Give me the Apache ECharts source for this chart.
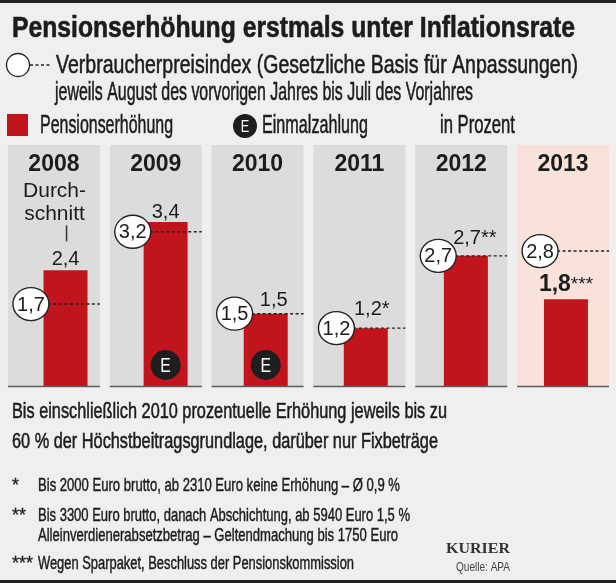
<!DOCTYPE html>
<html><head><meta charset="utf-8">
<script src="https://cdn.jsdelivr.net/npm/echarts@6/dist/echarts.min.js"></script>
<style>html,body{margin:0;padding:0;background:#efeff0;}#c{width:616px;height:583px;}</style>
</head><body><div id="c"></div>
<script>
// ---- data ----
const years = ['2008', '2009', '2010', '2011', '2012', '2013'];
const pensionIncrease = [2.4, 3.4, 1.5, 1.2, 2.7, 1.8];
const cpi = [1.7, 3.2, 1.5, 1.2, 2.7, 2.8];
const footnoteMarks = ['', '', '', '*', '**', '***'];
const oneOffPayment = [false, true, true, false, false, false];
const notes = ['Durch-\nschnitt', '', '', '', '', ''];
const highlightYear = '2013';
const yMax = 5;

// ---- style ----
const NARROW = "'Liberation Sans Narrow','Arial Narrow','Liberation Sans',Arial,sans-serif";
const SANS = "'Liberation Sans',Arial,sans-serif";
const SERIF = "'Liberation Serif','DejaVu Serif',serif";
const INK = '#1c1c1c';
const RED = '#c1141c';
const labelLift = [1, 0, 3, 9, 7, 3];
const labelDx = [0, 0, 8, 6, 9, 0];

const fmt = v => String(v).replace('.', ',');

const mctx = document.createElement('canvas').getContext('2d');
function measure(text, weight, size, family) {
  mctx.font = weight + ' ' + size + 'px ' + family;
  return mctx.measureText(text).width;
}
function T(text, x, y, size, target, opt) {
  opt = opt || {};
  const weight = opt.weight || 'normal';
  const family = opt.family || NARROW;
  const w = measure(text, weight, size, family);
  const sx = target ? target / w : 1;
  const color = opt.color || INK;
  return {
    type: 'text', x: x, y: y, scaleX: sx, silent: true, z: 100,
    style: {
      text: text, fontSize: size, fontFamily: family, fontWeight: weight,
      fill: color, stroke: opt.thick === 0 ? null : color, lineWidth: opt.thick === undefined ? 0.55 : opt.thick,
      textAlign: 'left', align: 'left',
      textVerticalAlign: 'middle', verticalAlign: 'middle'
    }
  };
}

const graphics = [
  { type: 'rect', shape: { x: 0, y: 0, width: 616, height: 3 }, style: { fill: '#222' }, silent: true },
  { type: 'rect', shape: { x: 0, y: 580, width: 616, height: 3 }, style: { fill: '#222' }, silent: true },
  T('Pensionserhöhung erstmals unter Inflationsrate', 12, 29, 29, 563, { weight: 'bold', thick: 0.6 }),
  { type: 'circle', shape: { cx: 18, cy: 65, r: 11.5 }, style: { fill: '#fff', stroke: '#222', lineWidth: 1.3 }, silent: true },
  { type: 'line', shape: { x1: 30, y1: 65, x2: 52, y2: 65 }, style: { stroke: '#222', lineWidth: 1.4, lineDash: [3, 2.5] }, silent: true },
  T('Verbraucherpreisindex (Gesetzliche Basis für Anpassungen)', 56, 66, 26, 522),
  T('jeweils August des vorvorigen Jahres bis Juli des Vorjahres', 55, 93, 26, 418),
  { type: 'rect', shape: { x: 7, y: 114, width: 21, height: 22 }, style: { fill: RED }, silent: true },
  T('Pensionserhöhung', 40, 126, 26, 133),
  { type: 'circle', shape: { cx: 245, cy: 126, r: 12 }, style: { fill: '#1e1e1e' }, silent: true },
  { type: 'text', x: 245, y: 127, scaleX: 0.75, silent: true, z: 100,
    style: { text: 'E', fontSize: 17, fontFamily: SANS, fill: '#fff', textAlign: 'center', align: 'center', textVerticalAlign: 'middle', verticalAlign: 'middle' } },
  T('Einmalzahlung', 262, 126, 26, 106),
  T('in Prozent', 440, 126, 26, 75),
  T('Bis einschließlich 2010 prozentuelle Erhöhung jeweils bis zu', 12, 412, 22, 435),
  T('60 % der Höchstbeitragsgrundlage, darüber nur Fixbeträge', 12, 442, 22, 426),
  T('*', 12, 486, 18, 0, { thick: 0.3 }),
  T('Bis 2000 Euro brutto, ab 2310 Euro keine Erhöhung – Ø 0,9 %', 38, 486, 18, 362, { thick: 0.45 }),
  T('**', 12, 516, 18, 0, { thick: 0.3 }),
  T('Bis 3300 Euro brutto, danach Abschichtung, ab 5940 Euro 1,5 %', 38, 516, 18, 372, { thick: 0.45 }),
  T('Alleinverdienerabsetzbetrag – Geltendmachung bis 1750 Euro', 38, 536, 18, 360, { thick: 0.45 }),
  T('***', 12, 564, 18, 0, { thick: 0.3 }),
  T('Wegen Sparpaket, Beschluss der Pensionskommission', 38, 564, 18, 316, { thick: 0.45 }),
  T('KURIER', 446, 549, 15, 64, { family: SERIF, weight: 'bold', color: '#333', thick: 0 }),
  T('Quelle: APA', 456, 567, 13, 54, { color: '#444', thick: 0 })
];

const panelData = years.map(y => ({ value: yMax, itemStyle: { color: y === highlightYear ? '#f8e2d9' : '#dcdcdd' } }));

const barData = pensionIncrease.map((v, i) => ({
  value: v,
  label: { distance: labelLift[i], offset: [labelDx[i], 0] }
}));

const option = {
  animation: false,
  backgroundColor: '#efeff0',
  graphic: graphics,
  grid: [
    { left: 3, width: 611, top: 145, height: 241 },
    { left: 15.5, width: 611, top: 145, height: 241 }
  ],
  xAxis: [
    { type: 'category', gridIndex: 0, data: years, position: 'top', z: 20,
      axisLine: { show: false }, axisTick: { show: false }, splitLine: { show: false },
      axisLabel: { inside: true, margin: 8, color: INK, fontSize: 23, fontWeight: 'bold', fontFamily: SANS } },
    { type: 'category', gridIndex: 1, data: years, show: false }
  ],
  yAxis: [
    { type: 'value', gridIndex: 0, min: 0, max: yMax, show: false },
    { type: 'value', gridIndex: 1, min: 0, max: yMax, show: false }
  ],
  series: [
    { type: 'bar', name: 'panel', xAxisIndex: 0, yAxisIndex: 0, barWidth: 92, data: panelData, silent: true, z: 1 },
    { type: 'bar', name: 'Pensionserhöhung', xAxisIndex: 1, yAxisIndex: 1, barWidth: 44, data: barData,
      itemStyle: { color: RED }, z: 3,
      label: {
        show: true, position: 'top', color: INK,
        formatter: p => {
          const m = footnoteMarks[p.dataIndex];
          if (years[p.dataIndex] === highlightYear) return '{b|' + fmt(p.value) + '}{s|' + m + '}';
          return '{n|' + fmt(p.value) + '}' + (m ? '{a|' + m + '}' : '');
        },
        rich: {
          n: { fontSize: 20, fontFamily: SANS, color: INK },
          a: { fontSize: 20, fontFamily: SANS, color: INK },
          b: { fontSize: 23, fontFamily: SANS, fontWeight: 'bold', color: INK },
          s: { fontSize: 19, fontFamily: SANS, color: INK }
        }
      }
    },
    { type: 'custom', name: 'Verbraucherpreisindex', xAxisIndex: 0, yAxisIndex: 0, z: 5,
      data: cpi.map((v, i) => [i, v]), encode: { x: 0, y: 1 },
      renderItem: (params, api) => {
        const i = api.value(0), v = api.value(1);
        const c = api.coord([i, v]);
        const base = api.coord([i, 0]);
        const half = 46;
        const cx = c[0] - 23, cy = c[1];
        return { type: 'group', children: [
          { type: 'line', shape: { x1: c[0] - half, y1: base[1] + 0.5, x2: c[0] + half, y2: base[1] + 0.5 }, style: { stroke: '#5c5c5c', lineWidth: 1.5 } },
          { type: 'line', shape: { x1: cx + 17, y1: cy, x2: c[0] + half, y2: cy }, style: { stroke: '#222', lineWidth: 1.4, lineDash: [3, 2.5] } },
          { type: 'circle', x: cx, y: cy, scaleX: 1.09, shape: { cx: 0, cy: 0, r: 16.5 }, style: { fill: '#fff', stroke: '#222', lineWidth: 1.3 } },
          { type: 'text', x: cx, y: cy + 1, style: { text: fmt(v), fontSize: 20, fontFamily: SANS, fill: INK, textAlign: 'center', align: 'center', textVerticalAlign: 'middle', verticalAlign: 'middle' } }
        ] };
      }
    },
    { type: 'custom', name: 'Einmalzahlung', xAxisIndex: 1, yAxisIndex: 1, z: 6,
      data: pensionIncrease.map((v, i) => [i, v]), encode: { x: 0, y: 1 },
      renderItem: (params, api) => {
        const i = api.value(0), v = api.value(1);
        const top = api.coord([i, v]);
        const base = api.coord([i, 0]);
        const children = [];
        if (oneOffPayment[i]) {
          children.push({ type: 'circle', shape: { cx: base[0], cy: base[1] - 21, r: 15 }, style: { fill: '#1e1e1e' } });
          children.push({ type: 'text', x: base[0], y: base[1] - 20, scaleX: 0.75, style: { text: 'E', fontSize: 21, fontFamily: SANS, fill: '#fff', textAlign: 'center', align: 'center', textVerticalAlign: 'middle', verticalAlign: 'middle' } });
        }
        if (notes[i]) {
          children.push({ type: 'text', x: top[0] - 11, y: top[1] - 68, style: { text: notes[i], fontSize: 21, lineHeight: 23, fontFamily: SANS, fill: INK, textAlign: 'center', align: 'center', textVerticalAlign: 'middle', verticalAlign: 'middle' } });
          children.push({ type: 'line', shape: { x1: top[0] + 1, y1: top[1] - 45, x2: top[0] + 1, y2: top[1] - 29 }, style: { stroke: '#333', lineWidth: 1.5 } });
        }
        return { type: 'group', children: children };
      }
    }
  ]
};

const chart = echarts.init(document.getElementById('c'), null, { renderer: 'canvas' });
chart.setOption(option);
</script>
</body></html>
